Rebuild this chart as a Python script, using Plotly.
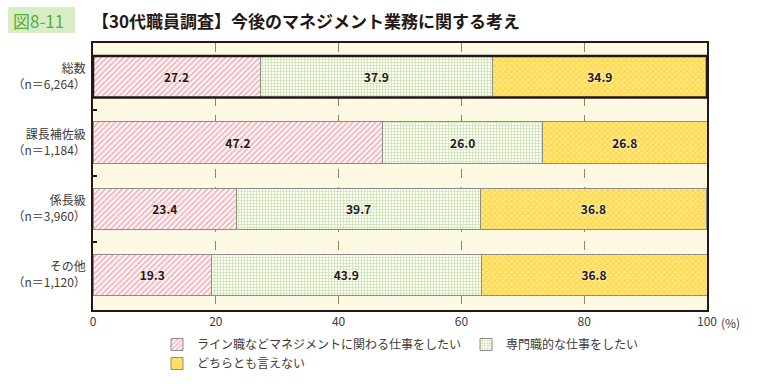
import plotly.graph_objects as go

categories = ["総数", "課長補佐級", "係長級", "その他"]
n_labels = ["（n＝6,264）", "（n＝1,184）", "（n＝3,960）", "（n＝1,120）"]
series_names = ["ライン職などマネジメントに関わる仕事をしたい", "専門職的な仕事をしたい", "どちらとも言えない"]
line_job = [27.2, 47.2, 23.4, 19.3]
specialist = [37.9, 26.0, 39.7, 43.9]
undecided = [34.9, 26.8, 36.8, 36.8]
x_ticks = [0, 20, 40, 60, 80, 100]

FONT = "Noto Sans CJK JP"
ylabels = [f"{c}<br>{n}" for c, n in zip(categories, n_labels)]
bargap = 0.37

styles = [
    dict(fg="#EE6C78", bg="#FFFFFF", shape="/", size=4, sol=0.5),
    dict(fg="#9ECF60", bg="#FFFFFF", shape="+", size=3, sol=0.5),
    dict(fg="#FFC400", bg="#FFEC99", shape="x", size=4, sol=0.65),
]

fig = go.Figure()
for name, vals, st in zip(series_names, [line_job, specialist, undecided], styles):
    fig.add_trace(go.Bar(
        y=ylabels, x=vals, orientation="h", name=name,
        text=[f"<b>{v:.1f}</b>" for v in vals], textposition="inside",
        insidetextanchor="middle",
        textfont=dict(family=FONT, size=12, color="#231815",
                      shadow="0px 0px 3px white"),
        marker=dict(color=st["bg"], line=dict(color="#8C8C8C", width=1),
                    pattern=dict(shape=st["shape"], fgcolor=st["fg"], bgcolor=st["bg"],
                                 size=st["size"], solidity=st["sol"], fillmode="overlay")),
        hoverinfo="skip",
    ))

half = (1 - bargap) / 2
fig.add_shape(type="rect", xref="x", yref="y", x0=0, x1=100,
              y0=0 - half, y1=0 + half, line=dict(color="#231815", width=2.5), layer="above")

# title box
fig.add_shape(type="rect", xref="paper", yref="paper",
              x0=-85/614, x1=-18/614, y0=(310-33)/267, y1=(310-7)/267,
              fillcolor="#D8EDC6", line=dict(width=0), layer="below")
fig.add_annotation(text="図8-11", xref="paper", yref="paper", x=-82/614, y=(310-20)/267,
                   xanchor="left", yanchor="middle", showarrow=False,
                   font=dict(family=FONT, size=17, color="#5AAE3A"))
fig.add_annotation(text="<b>【30代職員調査】今後のマネジメント業務に関する考え</b>", xref="paper", yref="paper",
                   x=-3/614, y=(310-20)/267, xanchor="left", yanchor="middle", showarrow=False,
                   font=dict(family=FONT, size=17, color="#231815"))
fig.add_annotation(text="(%)", xref="paper", yref="paper", x=1.0, y=-12/267,
                   xanchor="left", yanchor="middle", xshift=12, showarrow=False,
                   font=dict(family=FONT, size=12, color="#3E3A39"))

fig.update_layout(
    barmode="stack", bargap=bargap,
    width=760, height=388,
    margin=dict(l=93, r=53, t=43, b=78, autoexpand=False),
    paper_bgcolor="white", plot_bgcolor="#FEF9E3",
    font=dict(family=FONT, size=12, color="#3E3A39"),
    showlegend=True,
    legend=dict(orientation="h", x=(157-93)/614, y=-20/267, xanchor="left", yanchor="top",
                font=dict(family=FONT, size=12, color="#3E3A39"),
                itemwidth=30, tracegroupgap=0, traceorder="normal"),
)
fig.update_xaxes(range=[0, 100], tickvals=x_ticks, ticks="", showgrid=True,
                 gridcolor="#9C8260", griddash="dash", gridwidth=1,
                 showline=True, linecolor="#231815", linewidth=1.5, mirror=True,
                 zeroline=False, automargin=False, tickfont=dict(size=12, color="#3E3A39"))
fig.update_yaxes(range=[3.53, -0.51], ticks="inside", tickson="boundaries", ticklen=4,
                 tickwidth=2, tickcolor="#231815", showgrid=False,
                 showline=True, linecolor="#231815",
                 linewidth=1.5, mirror=True, ticklabelstandoff=3, automargin=False,
                 tickfont=dict(size=12, color="#3E3A39"))

fig.write_html("out.html", config={"displayModeBar": False},
               post_script="document.body.style.margin='0';document.body.style.overflow='hidden';")
